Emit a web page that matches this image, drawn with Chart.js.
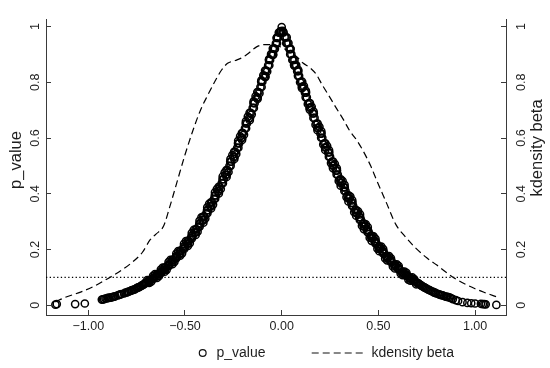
<!DOCTYPE html>
<html><head><meta charset="utf-8">
<script src="https://cdn.jsdelivr.net/npm/chart.js@4.4.1/dist/chart.umd.min.js"></script>
<style>html,body{margin:0;padding:0;background:#fff}#wrap{width:550px;height:368px;position:relative}</style>
</head><body><div id="wrap"><canvas id="c" width="550" height="368"></canvas></div>
<script>
// ---- tick labels / titles ----
const xTicks = [-1, -0.5, 0, 0.5, 1];
const yTicks = [0, 0.2, 0.4, 0.6, 0.8, 1];
const leftTitle = 'p_value';
const rightTitle = 'kdensity beta';
const legendLabels = ['p_value', 'kdensity beta'];
const refLineP = 0.1;

// ---- scatter: beta vs p_value ----
const betaLeftTail = [-1.170,-1.163,-1.068,-1.018,-0.930,-0.924,-0.918,-0.911,-0.905,-0.899,-0.893,-0.886,-0.880,-0.872,-0.866,-0.860,-0.848,-0.840,-0.834,-0.828,-0.815,-0.808,-0.800,-0.795,-0.790,-0.782,-0.777,-0.772,-0.765,-0.760,-0.752,-0.747,-0.742,-0.737,-0.732,-0.727,-0.722,-0.717,-0.712,-0.706];
const pLeftTail    = [0.002,0.004,0.004,0.006,0.020,0.021,0.022,0.024,0.024,0.026,0.026,0.027,0.028,0.030,0.031,0.032,0.035,0.037,0.039,0.040,0.042,0.045,0.046,0.048,0.049,0.051,0.053,0.054,0.056,0.057,0.060,0.062,0.064,0.065,0.067,0.069,0.071,0.073,0.075,0.078];
const betaLeft = [-0.70,-0.69,-0.68,-0.67,-0.66,-0.65,-0.64,-0.63,-0.62,-0.61,-0.60,-0.59,-0.58,-0.57,-0.56,-0.55,-0.54,-0.53,-0.52,-0.51,-0.50,-0.49,-0.48,-0.47,-0.46,-0.45,-0.44,-0.43,-0.42,-0.41,-0.40,-0.39,-0.38,-0.37,-0.36,-0.35,-0.34,-0.33,-0.32,-0.31,-0.30,-0.29,-0.28,-0.27,-0.26,-0.25,-0.24,-0.23,-0.22,-0.21,-0.20,-0.19,-0.18,-0.17,-0.16,-0.15,-0.14,-0.13,-0.12,-0.11,-0.10,-0.09,-0.08,-0.07,-0.06,-0.05,-0.04,-0.03,-0.02,-0.01];
const pLeft    = [0.080,0.085,0.090,0.094,0.098,0.104,0.111,0.115,0.120,0.127,0.135,0.140,0.146,0.154,0.163,0.169,0.176,0.185,0.195,0.202,0.210,0.221,0.231,0.240,0.249,0.261,0.272,0.282,0.293,0.305,0.318,0.330,0.341,0.355,0.369,0.382,0.394,0.409,0.425,0.438,0.452,0.468,0.485,0.500,0.515,0.532,0.550,0.565,0.581,0.600,0.618,0.635,0.652,0.671,0.690,0.708,0.725,0.745,0.765,0.783,0.802,0.822,0.842,0.861,0.880,0.900,0.921,0.940,0.959,0.980];
const betaLeftB = [-0.695,-0.675,-0.655,-0.635,-0.615,-0.595,-0.575,-0.555,-0.535,-0.515,-0.495,-0.475,-0.455,-0.435,-0.415,-0.395,-0.375,-0.355,-0.335,-0.315,-0.295,-0.275,-0.255,-0.235,-0.215,-0.195,-0.175,-0.155,-0.135,-0.115,-0.095,-0.075,-0.055,-0.035,-0.015];
const pLeftB    = [0.090,0.084,0.112,0.104,0.135,0.127,0.163,0.155,0.194,0.186,0.230,0.223,0.270,0.264,0.315,0.311,0.364,0.361,0.417,0.417,0.476,0.478,0.539,0.543,0.606,0.612,0.677,0.685,0.750,0.761,0.825,0.839,0.901,0.920,0.978];
const betaLeftC = [-0.685,-0.665,-0.645,-0.625,-0.605,-0.585,-0.565,-0.545,-0.525,-0.505,-0.485,-0.465,-0.445,-0.425,-0.405,-0.385,-0.365,-0.345,-0.325,-0.305,-0.285,-0.265,-0.245,-0.225,-0.205,-0.185,-0.165,-0.145,-0.125,-0.105,-0.085,-0.065,-0.045,-0.025,-0.005];
const pLeftC    = [0.080,0.105,0.098,0.128,0.120,0.155,0.147,0.185,0.178,0.220,0.213,0.259,0.252,0.303,0.296,0.351,0.347,0.405,0.401,0.462,0.460,0.524,0.525,0.590,0.593,0.660,0.664,0.732,0.740,0.807,0.818,0.883,0.898,0.960,0.984];
const betaLeftD = [-0.706,-0.686,-0.666,-0.646,-0.626,-0.606,-0.586,-0.566,-0.546,-0.526,-0.506,-0.486,-0.466,-0.446,-0.426,-0.406,-0.386,-0.366,-0.346,-0.326,-0.306,-0.286,-0.266,-0.246,-0.226,-0.206,-0.186,-0.166,-0.146,-0.126,-0.106,-0.086,-0.066,-0.046,-0.026];
const pLeftD    = [0.080,0.090,0.098,0.111,0.120,0.135,0.146,0.163,0.176,0.195,0.210,0.231,0.249,0.272,0.293,0.318,0.341,0.369,0.394,0.425,0.452,0.485,0.515,0.550,0.581,0.618,0.652,0.690,0.725,0.765,0.802,0.842,0.880,0.921,0.959];
const betaLeftE = [-0.684,-0.664,-0.644,-0.624,-0.604,-0.584,-0.564,-0.544,-0.524,-0.504,-0.484,-0.464,-0.444,-0.424,-0.404,-0.384,-0.364,-0.344,-0.324,-0.304,-0.284,-0.264,-0.244,-0.224,-0.204,-0.184,-0.164,-0.144,-0.124,-0.104,-0.084,-0.064,-0.044,-0.024,-0.004];
const pLeftE    = [0.085,0.094,0.104,0.115,0.127,0.140,0.154,0.169,0.185,0.202,0.221,0.240,0.261,0.282,0.305,0.330,0.355,0.382,0.409,0.438,0.468,0.500,0.532,0.565,0.600,0.635,0.671,0.708,0.745,0.783,0.822,0.861,0.900,0.940,0.980];

const betaRight = [0.00,0.01,0.02,0.03,0.04,0.05,0.06,0.07,0.08,0.09,0.10,0.11,0.12,0.13,0.14,0.15,0.16,0.17,0.18,0.19,0.20,0.21,0.22,0.23,0.24,0.25,0.26,0.27,0.28,0.29,0.30,0.31,0.32,0.33,0.34,0.35,0.36,0.37,0.38,0.39,0.40,0.41,0.42,0.43,0.44,0.45,0.46,0.47,0.48,0.49,0.50,0.51,0.52,0.53,0.54,0.55,0.56,0.57,0.58,0.59,0.60,0.61,0.62,0.63,0.64,0.65,0.66,0.67,0.68,0.69,0.70];
const pRight    = [0.998,0.979,0.961,0.940,0.919,0.901,0.880,0.862,0.840,0.823,0.802,0.784,0.763,0.746,0.725,0.709,0.688,0.672,0.652,0.636,0.616,0.601,0.581,0.566,0.548,0.533,0.515,0.501,0.483,0.469,0.452,0.439,0.423,0.410,0.394,0.383,0.367,0.356,0.341,0.331,0.316,0.306,0.293,0.283,0.270,0.262,0.249,0.241,0.229,0.222,0.210,0.203,0.193,0.186,0.176,0.170,0.161,0.155,0.146,0.141,0.133,0.128,0.120,0.116,0.109,0.105,0.098,0.095,0.088,0.086,0.079];
const betaRightB = [0.015,0.035,0.055,0.075,0.095,0.115,0.135,0.155,0.175,0.195,0.215,0.235,0.255,0.275,0.295,0.315,0.335,0.355,0.375,0.395,0.415,0.435,0.455,0.475,0.495,0.515,0.535,0.555,0.575,0.595,0.615,0.635,0.655,0.675,0.695];
const pRightB    = [0.962,0.941,0.880,0.862,0.800,0.786,0.722,0.712,0.648,0.640,0.577,0.571,0.510,0.506,0.446,0.445,0.388,0.390,0.334,0.337,0.285,0.290,0.242,0.247,0.203,0.210,0.168,0.176,0.139,0.147,0.114,0.121,0.092,0.100,0.075];
const betaRightC = [0.005,0.025,0.045,0.065,0.085,0.105,0.125,0.145,0.165,0.185,0.205,0.225,0.245,0.265,0.285,0.305,0.325,0.345,0.365,0.385,0.405,0.425,0.445,0.465,0.485,0.505,0.525,0.545,0.565,0.585,0.605,0.625,0.645,0.665,0.685];
const pRightC    = [0.985,0.941,0.921,0.860,0.845,0.779,0.769,0.702,0.695,0.628,0.624,0.557,0.556,0.492,0.491,0.429,0.432,0.372,0.376,0.321,0.326,0.273,0.280,0.231,0.238,0.194,0.201,0.161,0.168,0.132,0.140,0.108,0.116,0.088,0.094];
const betaRightD = [0.026,0.046,0.066,0.086,0.106,0.126,0.146,0.166,0.186,0.206,0.226,0.246,0.266,0.286,0.306,0.326,0.346,0.366,0.386,0.406,0.426,0.446,0.466,0.486,0.506,0.526,0.546,0.566,0.586,0.606,0.626,0.646,0.666,0.686,0.706];
const pRightD    = [0.961,0.919,0.880,0.840,0.802,0.763,0.725,0.688,0.652,0.616,0.581,0.548,0.515,0.483,0.452,0.423,0.394,0.367,0.341,0.316,0.293,0.270,0.249,0.229,0.210,0.193,0.176,0.161,0.146,0.133,0.120,0.109,0.098,0.088,0.079];
const betaRightE = [0.004,0.024,0.044,0.064,0.084,0.104,0.124,0.144,0.164,0.184,0.204,0.224,0.244,0.264,0.284,0.304,0.324,0.344,0.364,0.384,0.404,0.424,0.444,0.464,0.484,0.504,0.524,0.544,0.564,0.584,0.604,0.624,0.644,0.664,0.684];
const pRightE    = [0.979,0.940,0.901,0.862,0.823,0.784,0.746,0.709,0.672,0.636,0.601,0.566,0.533,0.501,0.469,0.439,0.410,0.383,0.356,0.331,0.306,0.283,0.262,0.241,0.222,0.203,0.186,0.170,0.155,0.141,0.128,0.116,0.105,0.095,0.086];
const betaRightTail = [0.71,0.715,0.72,0.725,0.73,0.735,0.74,0.745,0.75,0.758,0.765,0.772,0.78,0.785,0.79,0.795,0.80,0.81,0.817,0.825,0.832,0.84,0.848,0.855,0.862,0.87,0.877,0.885,0.90,0.912,0.935,0.96,0.98,1.00,1.03,1.04,1.048,1.055,1.11];
const pRightTail    = [0.076,0.074,0.071,0.069,0.067,0.065,0.063,0.061,0.059,0.056,0.054,0.051,0.049,0.047,0.045,0.044,0.042,0.040,0.038,0.036,0.035,0.033,0.031,0.030,0.029,0.027,0.025,0.022,0.018,0.015,0.011,0.008,0.007,0.006,0.005,0.004,0.004,0.003,0.001];

// ---- kdensity of beta (right axis) ----
const kdX = [-1.17,-1.12,-1.04,-0.97,-0.91,-0.84,-0.78,-0.72,-0.68,-0.65,-0.61,-0.58,-0.54,-0.50,-0.46,-0.42,-0.38,-0.34,-0.31,-0.28,-0.24,-0.20,-0.17,-0.13,-0.09,-0.05,-0.01,0.04,0.08,0.11,0.15,0.18,0.21,0.25,0.28,0.32,0.35,0.39,0.42,0.46,0.49,0.54,0.59,0.64,0.69,0.75,0.80,0.85,0.90,0.95,1.00,1.06,1.115];
const kdY = [0.012,0.028,0.047,0.068,0.091,0.120,0.150,0.190,0.235,0.255,0.285,0.350,0.445,0.540,0.625,0.700,0.757,0.810,0.845,0.868,0.878,0.890,0.905,0.927,0.935,0.935,0.928,0.909,0.890,0.869,0.850,0.827,0.790,0.745,0.710,0.665,0.628,0.590,0.555,0.500,0.450,0.370,0.290,0.245,0.207,0.170,0.145,0.118,0.094,0.075,0.059,0.043,0.029];

// ---- build ----
const betaVals = [].concat(betaLeftTail, betaLeft, betaLeftB, betaLeftC, betaLeftD, betaLeftE,
                           betaRight, betaRightB, betaRightC, betaRightD, betaRightE, betaRightTail);
const pVals    = [].concat(pLeftTail, pLeft, pLeftB, pLeftC, pLeftD, pLeftE,
                           pRight, pRightB, pRightC, pRightD, pRightE, pRightTail);
const scatterPts = betaVals.map((b, i) => ({x: b, y: pVals[i]}));
const kdPts = kdX.map((b, i) => ({x: b, y: kdY[i]}));

const FONT = "'Liberation Sans', Arial, Helvetica, sans-serif";
const axisColor = '#3a3a3a';
const textColor = '#1e1e1e';
const X_MIN = -1.2187, X_MAX = 1.1598, Y_MIN = -0.0352, Y_MAX = 1.0271;
const refPts = [{x: X_MIN, y: refLineP}, {x: X_MAX, y: refLineP}];

function yAxis(pos, w, pad) {
  return {
    type: 'linear', position: pos, min: Y_MIN, max: Y_MAX,
    afterBuildTicks: s => { s.ticks = yTicks.map(v => ({value: v})); },
    afterFit: s => { s.width = w; },
    ticks: { minRotation: 90, maxRotation: 90, crossAlign: 'center', padding: pad, color: textColor,
             font: {family: FONT, size: 12.5}, callback: v => String(v) },
    grid: { drawOnChartArea: false, drawTicks: true, tickLength: -5, color: axisColor, lineWidth: 1 },
    border: { display: true, color: axisColor, width: 1 }
  };
}

const decor = {
  id: 'decor',
  afterDraw(chart) {
    const ctx = chart.ctx;
    ctx.save();
    ctx.fillStyle = textColor;
    ctx.strokeStyle = '#111';
    ctx.font = '16.5px ' + FONT;
    ctx.textAlign = 'center';
    ctx.textBaseline = 'middle';
    ctx.save(); ctx.translate(16, 160); ctx.rotate(-Math.PI / 2); ctx.fillText(leftTitle, 0, 0); ctx.restore();
    ctx.save(); ctx.translate(537, 148); ctx.rotate(-Math.PI / 2); ctx.fillText(rightTitle, 0, 0); ctx.restore();
    const ly = 353;
    ctx.lineWidth = 1.2;
    ctx.beginPath(); ctx.arc(202.7, ly, 3.4, 0, Math.PI * 2); ctx.stroke();
    ctx.setLineDash([7, 4]);
    ctx.beginPath(); ctx.moveTo(311.7, ly); ctx.lineTo(364.3, ly); ctx.stroke();
    ctx.setLineDash([]);
    ctx.font = '14px ' + FONT;
    ctx.textAlign = 'left';
    ctx.fillText(legendLabels[0], 216.5, ly);
    ctx.fillText(legendLabels[1], 371.5, ly);
    ctx.restore();
  }
};

new Chart(document.getElementById('c'), {
  data: {
    datasets: [
      { type: 'scatter', label: 'p_value', data: scatterPts, yAxisID: 'y',
        pointStyle: 'circle', pointRadius: 3.6, pointBorderWidth: 1.5,
        pointBorderColor: '#000', pointBackgroundColor: 'rgba(0,0,0,0)', showLine: false },
      { type: 'line', label: 'kdensity beta', data: kdPts, yAxisID: 'y2',
        borderColor: '#000', borderWidth: 1.2, borderDash: [7, 4], pointRadius: 0,
        fill: false, tension: 0.35, cubicInterpolationMode: 'monotone' },
      { type: 'line', label: 'ref', data: refPts, yAxisID: 'y',
        borderColor: '#000', borderWidth: 1.3, borderDash: [1.3, 2.4], pointRadius: 0, fill: false }
    ]
  },
  options: {
    responsive: false, animation: false, devicePixelRatio: 1, events: [],
    layout: { padding: { top: 13, left: 0, right: 0, bottom: 0 } },
    plugins: { legend: { display: false }, tooltip: { enabled: false } },
    scales: {
      x: {
        type: 'linear', position: 'bottom', min: X_MIN, max: X_MAX,
        afterBuildTicks: s => { s.ticks = xTicks.map(v => ({value: v})); },
        afterFit: s => { s.height = 53; },
        ticks: { autoSkip: false, maxRotation: 0, padding: 9.5, color: textColor,
                 font: {family: FONT, size: 12.5},
                 callback: v => (v < 0 ? '\u2212' : '') + Math.abs(v).toFixed(2) },
        grid: { drawOnChartArea: false, drawTicks: true, tickLength: -5, color: axisColor, lineWidth: 1 },
        border: { display: true, color: axisColor, width: 1 }
      },
      y: yAxis('left', 46, 7),
      y2: yAxis('right', 44, 11.5)
    }
  },
  plugins: [decor]
});
</script>
</body></html>
